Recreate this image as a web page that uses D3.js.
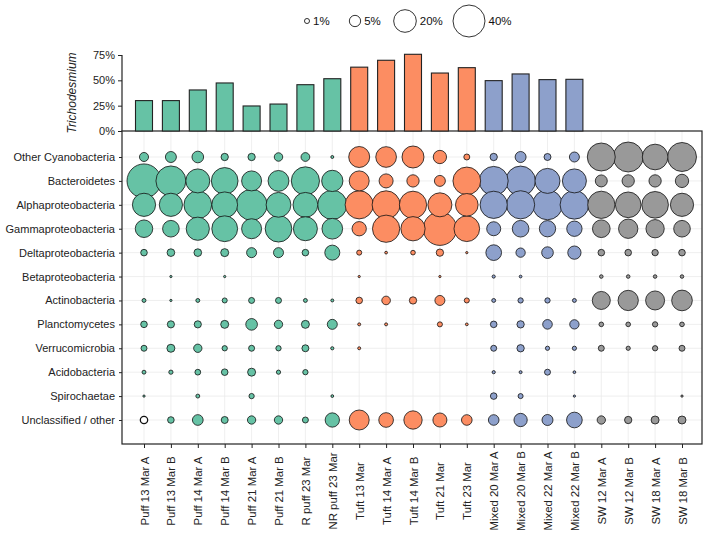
<!DOCTYPE html>
<html><head><meta charset="utf-8">
<script src="https://cdn.jsdelivr.net/npm/d3@7"></script>
<style>body{margin:0;background:#fff;} text{font-family:"Liberation Sans",Arial,sans-serif;}</style>
</head><body><svg id="c" width="708" height="536"></svg>
<script>
const samples = ["Puff 13 Mar A","Puff 13 Mar B","Puff 14 Mar A","Puff 14 Mar B","Puff 21 Mar A","Puff 21 Mar B","R puff 23 Mar","NR puff 23 Mar",
 "Tuft 13 Mar","Tuft 14 Mar A","Tuft 14 Mar B","Tuft 21 Mar","Tuft 23 Mar",
 "Mixed 20 Mar A","Mixed 20 Mar B","Mixed 22 Mar A","Mixed 22 Mar B",
 "SW 12 Mar A","SW 12 Mar B","SW 18 Mar A","SW 18 Mar B"];
const groups = ["Puff","Puff","Puff","Puff","Puff","Puff","Puff","Puff","Tuft","Tuft","Tuft","Tuft","Tuft","Mixed","Mixed","Mixed","Mixed","SW","SW","SW","SW"];
const groupNames = ["Puff","Tuft","Mixed","SW"];
const groupColors = ["#66C2A5","#FC8D62","#8DA0CB","#999999"];
const trichodesmium = [30,30,40.5,47.4,24.7,26.6,45.7,51.6, 63,69.8,75.7,57.2,62.5, 49.7,56.3,50.7,51, null,null,null,null];
const taxa = ["Other Cyanobacteria","Bacteroidetes","Alphaproteobacteria","Gammaproteobacteria","Deltaproteobacteria","Betaproteobacteria","Actinobacteria","Planctomycetes","Verrucomicrobia","Acidobacteria","Spirochaetae","Unclassified / other"];
// relative abundance (%) per taxon, one value per sample (0 = absent)
const otherCyano   = [3.2,4.7,5.3,2.1,2.1,2.8,3,0.35, 17.2,16.7,18.9,6.9,1.4, 2.1,4.7,1.9,3.9, 30.6,35,25.7,32.8];
const bacteroid    = [45,35,22.5,27.8,15.6,17,31,17.7, 15.6,7.7,5.9,4.7,30, 32.8,34.4,24.4,22.5, 5.6,5.9,5.9,6.9];
const alpha        = [21,21,30,26,37.5,24,24,33.5, 31,30.6,29,22.5,20, 29,31,35,32, 29,25.7,27.7,21];
const gamma        = [12,10.8,21,26,15.6,27.7,22.5,16.7, 8,29,23,43.4,25.7, 7.7,10.8,10.4,9.2, 12.2,14.6,13.1,10.8];
const delta        = [1.7,2.3,2.3,2.5,3.9,3.9,1.7,8.8, 1,0.3,0.85,2.1,0.2, 9.6,3.4,5.3,6.9, 1.7,1.7,1.6,1.7];
const beta         = [0,0.2,0,0.2,0,0,0,0, 0.2,0,0,0.2,0, 0.4,0.3,0,0, 0.5,0.5,0.5,0.5];
const actino       = [0.6,0.2,0.6,1,1.4,1.4,0.6,0.35, 1.7,2.9,2.1,3.9,1, 0.6,1.1,1.1,0.6, 12.7,16.1,14.1,16.7];
const plancto      = [1.7,2,2,2.5,5.3,2.7,2.5,3.9, 0.35,0.35,0,1,0.3, 1.7,2.1,3.6,3.4, 0.85,0.85,1.1,0.85];
const verruco      = [1.4,2.5,2.7,1.1,1.4,1.1,1.9,0.4, 0.35,0,0,0,0, 1.4,2.1,0.7,0.7, 1.4,0.7,1.1,1.4];
const acido        = [0.6,0.7,1.3,1.7,2.5,0.7,1.1,0, 0,0,0,0,0, 0.4,0.35,1.4,0.3, 0,0,0,0];
const spiro        = [0.2,0,0.6,0,1.1,0,0,0.3, 0,0,0,0,0, 1.7,1,0,0.2, 0,0,0,0.2];
const unclass      = [2.1,1.7,4.5,1.9,2.7,2.7,1.4,8, 15.6,8.4,13.1,7.7,4.4, 4.4,6.9,4.7,9.6, 2.7,2.1,2.5,2.5];
const abundance = [otherCyano,bacteroid,alpha,gamma,delta,beta,actino,plancto,verruco,acido,spiro,unclass];
const legendValues = [1,5,20,40];
const barTicks = [0,25,50,75];

const svg = d3.select("#c");
const color = d3.scaleOrdinal(groupNames, groupColors);
const x = d3.scalePoint(samples, [144, 682]);
const y = d3.scalePoint(taxa, [157, 420]);
const r = d3.scaleSqrt([0, 40], [0, 16]);
const yb = d3.scaleLinear([0, 75], [131, 55]);
const P = {l:122, r:702, t:131, b:444};
const FONT = "Liberation Sans, Arial, sans-serif";

// legend
let lx = [307, 355, 405, 469];
legendValues.forEach((v,i)=>{
  svg.append("circle").attr("cx", lx[i]).attr("cy", 21).attr("r", r(v)).attr("fill","none").attr("stroke","#000").attr("stroke-width",0.8);
  svg.append("text").attr("x", lx[i]+r(v)+3.5).attr("y", 21).attr("dy","0.35em").attr("font-size",11.5).attr("fill","#111").text(v+"%");
});

// bubble panel grid
const g = svg.append("g");
g.selectAll("line.gx").data(samples).join("line").attr("x1",d=>x(d)).attr("x2",d=>x(d)).attr("y1",P.t).attr("y2",P.b).attr("stroke","#ebebeb").attr("stroke-width",0.8);
g.selectAll("line.gy").data(taxa).join("line").attr("y1",d=>y(d)).attr("y2",d=>y(d)).attr("x1",P.l).attr("x2",P.r).attr("stroke","#ebebeb").attr("stroke-width",0.8);

// bubbles
const pts = [];
taxa.forEach((t,i)=>samples.forEach((s,j)=>{ const v = abundance[i][j]; if(v>0) pts.push({t,s,v,grp:groups[j],white:(i===11&&j===0)}); }));
pts.sort((a,b)=>b.v-a.v);
g.selectAll("circle.b").data(pts).join("circle").attr("cx",d=>x(d.s)).attr("cy",d=>y(d.t)).attr("r",d=>r(d.v))
  .attr("fill",d=>d.white?"#fff":color(d.grp)).attr("stroke","#111").attr("stroke-width",d=>d.white?1.3:0.8);

// panel border
svg.append("rect").attr("x",P.l).attr("y",P.t).attr("width",P.r-P.l).attr("height",P.b-P.t).attr("fill","none").attr("stroke","#222").attr("stroke-width",1.2);

// bars
const bw = 17;
const bars = samples.map((s,i)=>({s,v:trichodesmium[i],grp:groups[i]})).filter(d=>d.v!=null);
svg.selectAll("rect.bar").data(bars).join("rect").attr("x",d=>x(d.s)-bw/2).attr("width",bw).attr("y",d=>yb(d.v)).attr("height",d=>yb(0)-yb(d.v))
  .attr("fill",d=>color(d.grp)).attr("stroke","#222").attr("stroke-width",1.1);

// axes
const axL = svg.append("g").attr("transform",`translate(${P.l},0)`).call(d3.axisLeft(y).tickSize(3).tickPadding(4));
const axB = svg.append("g").attr("transform",`translate(0,${P.b})`).call(d3.axisBottom(x).tickSize(4).tickPadding(4));
const axBar = svg.append("g").attr("transform",`translate(${P.l},0)`).call(d3.axisLeft(yb).tickValues(barTicks).tickFormat(d=>d+"%").tickSize(4).tickPadding(3));
[axL,axB,axBar].forEach(a=>{ a.selectAll("text").attr("font-size",11).attr("fill","#222").attr("font-family",FONT); a.selectAll("line,path").attr("stroke","#222"); a.select("path.domain").attr("stroke-width",1.2); });
axB.select("path.domain").remove();
axL.select("path.domain").remove();
axB.selectAll("text").attr("font-size",11.4).attr("transform","rotate(-90)").attr("text-anchor","middle").attr("dy","0.35em").attr("x",-47).attr("y",0);
axBar.select("path.domain").attr("d",`M0,${yb(75)}V${yb(0)}`);

svg.append("text").attr("transform",`translate(76,${(yb(0)+yb(75))/2}) rotate(-90)`).attr("text-anchor","middle").attr("font-size",12).attr("font-style","italic").attr("fill","#222").text("Trichodesmium");
</script></body></html>
